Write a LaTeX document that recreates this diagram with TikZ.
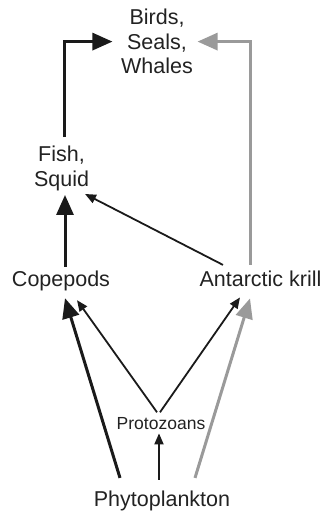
\documentclass[tikz,border=0pt]{standalone}
\usepackage{fontspec}
\setmainfont{Liberation Sans}
\usetikzlibrary{arrows.meta}
\definecolor{txt}{HTML}{222222}
\definecolor{ink}{HTML}{1A1A1A}
\definecolor{pale}{HTML}{9A9A9A}
\begin{document}
\begin{tikzpicture}[x=1pt,y=1pt,
  lbl/.style={inner sep=0pt, text=txt, font=\fontsize{21.5}{24.7}\selectfont, align=center},
  small/.style={inner sep=0pt, text=txt, font=\fontsize{17.5}{20}\selectfont},
  thickarr/.style={draw=ink, line width=3pt, line join=miter, -{Triangle[length=20pt,width=17pt]}},
  grayarr/.style={draw=pale, line width=3pt, line join=miter, -{Triangle[length=20pt,width=17pt]}},
  thinarr/.style={draw=ink, line width=1.8pt, -{Triangle[length=11pt,width=9pt]}}]
\useasboundingbox (0,0) rectangle (325,511);
% nodes
\node[lbl] (birds) at (157,469.4) {Birds,\\Seals,\\Whales};
\node[lbl] (fish) at (61.5,342.4) {Fish,\\Squid};
\node[lbl, anchor=base] (cope) at (61,224.3) {Copepods};
\node[lbl, anchor=base] (krill) at (260.5,224.3) {Antarctic krill};
\node[small, anchor=base] (proto) at (161,81.7) {Protozoans};
\node[lbl, anchor=base] (phyto) at (162,4.3) {Phytoplankton};
% connectors
\draw[thickarr] ([xshift=2.5pt,yshift=9pt]fish.north) |- ([xshift=-8.5pt]birds.west);
\draw[grayarr] ([xshift=-10.5pt,yshift=6pt]krill.north) |- ([xshift=4.5pt]birds.east);
\draw[thickarr] ([xshift=4pt,yshift=4pt]cope.north) -- ([xshift=3.5pt,yshift=-3.8pt]fish.south);
\draw[thinarr] ([xshift=-37.5pt,yshift=6pt]krill.north) -- ([xshift=23.5pt,yshift=-2.8pt]fish.south);
\draw[thickarr] ([xshift=-42pt,yshift=13pt]phyto.north) -- ([xshift=4pt,yshift=-6.8pt]cope.south);
\draw[thinarr] ([xshift=-4pt,yshift=4.8pt]proto.north) -- ([xshift=16pt,yshift=-8.8pt]cope.south);
\draw[thinarr] ([xshift=-1pt,yshift=4.8pt]proto.north) -- ([xshift=-20.5pt,yshift=-10.3pt]krill.south);
\draw[grayarr] ([xshift=33pt,yshift=13pt]phyto.north) -- ([xshift=-10.5pt,yshift=-11.3pt]krill.south);
\draw[thinarr] ([xshift=-3pt,yshift=11pt]phyto.north) -- ([xshift=-2pt,yshift=-3.7pt]proto.south);
\end{tikzpicture}
\end{document}
